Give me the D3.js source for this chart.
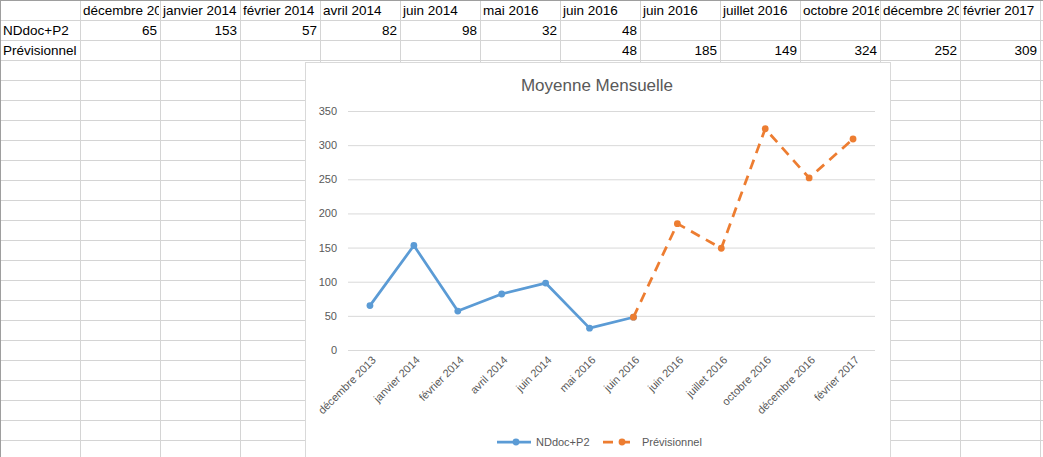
<!DOCTYPE html>
<html lang="fr">
<head>
    <meta charset="UTF-8">
    <script src="https://d3js.org/d3.v7.min.js"></script>
    <style>
        body {
            margin: 0;
            background: white;
            font-family: "Liberation Sans", Arial, sans-serif;
        }
        svg { display: block; }
    </style>
</head>
<body>
    <svg id="sheet" width="1043" height="457"></svg>
    <script>
        // données de la feuille
        const mois = ["décembre 2013", "janvier 2014", "février 2014", "avril 2014", "juin 2014", "mai 2016",
                      "juin 2016", "juin 2016", "juillet 2016", "octobre 2016", "décembre 2016", "février 2017"];
        const nomsSeries = ["NDdoc+P2", "Prévisionnel"];
        const ndDoc = [65, 153, 57, 82, 98, 32, 48, null, null, null, null, null];
        const previsionnel = [null, null, null, null, null, null, 48, 185, 149, 324, 252, 309];
        const yTicks = [0, 50, 100, 150, 200, 250, 300, 350];
        const titre = "Moyenne Mensuelle";

        const W = 1043, H = 457;
        const colW = 80, rowH = 20;
        const svg = d3.select("#sheet");

        // ---- grille du tableur ----
        const grid = svg.append("g");
        d3.range(colW, W, colW).forEach(x => {
            grid.append("line").attr("x1", x + 0.5).attr("x2", x + 0.5).attr("y1", 0).attr("y2", H)
                .attr("stroke", "#d4d4d4");
        });
        d3.range(rowH, H, rowH).forEach(y => {
            grid.append("line").attr("x1", 0).attr("x2", W).attr("y1", y + 0.5).attr("y2", y + 0.5)
                .attr("stroke", "#d4d4d4");
        });
        grid.append("line").attr("x1", 0).attr("x2", W).attr("y1", 0.5).attr("y2", 0.5).attr("stroke", "#9e9e9e");
        grid.append("line").attr("x1", 0.5).attr("x2", 0.5).attr("y1", 0).attr("y2", H).attr("stroke", "#9e9e9e");

        // cellules (texte coupé au bord de la cellule)
        const defs = svg.append("defs");
        function cell(col, row, txt, align) {
            const id = `c${col}_${row}`;
            defs.append("clipPath").attr("id", id)
                .append("rect").attr("x", col * colW).attr("y", row * rowH)
                .attr("width", colW - 1).attr("height", rowH);
            grid.append("text")
                .attr("clip-path", `url(#${id})`)
                .attr("x", align === "end" ? (col + 1) * colW - 3 : col * colW + 3)
                .attr("y", row * rowH + 15)
                .attr("text-anchor", align)
                .style("font-size", "13.5px")
                .attr("fill", "#000")
                .text(txt);
        }
        mois.forEach((m, i) => cell(i + 1, 0, m, "start"));
        nomsSeries.forEach((n, i) => cell(0, i + 1, n, "start"));
        ndDoc.forEach((v, i) => { if (v !== null) cell(i + 1, 1, v, "end"); });
        previsionnel.forEach((v, i) => { if (v !== null) cell(i + 1, 2, v, "end"); });

        // ---- graphique ----
        const box = { x: 305, y: 62, w: 585, h: 400 };
        const chart = svg.append("g");
        chart.append("rect")
            .attr("x", box.x + 0.5).attr("y", box.y + 0.5)
            .attr("width", box.w).attr("height", box.h)
            .attr("fill", "white").attr("stroke", "#d9d9d9");

        chart.append("text")
            .attr("x", 597).attr("y", 91)
            .attr("text-anchor", "middle")
            .style("font-size", "17px")
            .attr("fill", "#595959")
            .text(titre);

        const plot = { left: 348, right: 875, top: 111, bottom: 350 };
        const x = d3.scaleBand().domain(d3.range(mois.length)).range([plot.left, plot.right]);
        const y = d3.scaleLinear().domain([0, 350]).range([plot.bottom, plot.top]);
        const cx = i => x(i) + x.bandwidth() / 2;

        // lignes de grille + axe Y
        const yAxis = chart.append("g")
            .attr("transform", `translate(${plot.left},0)`)
            .call(d3.axisLeft(y).tickValues(yTicks).tickSize(-(plot.right - plot.left)).tickPadding(11));
        yAxis.select(".domain").remove();
        yAxis.selectAll(".tick line").attr("stroke", "#d9d9d9");
        yAxis.selectAll(".tick text").attr("fill", "#595959").style("font-size", "11px")
            .style("font-family", "'Liberation Sans', Arial, sans-serif");

        // axe X (libellés inclinés)
        chart.append("g").selectAll("text")
            .data(mois)
            .join("text")
            .attr("transform", (d, i) => `translate(${cx(i) + 4},${plot.bottom + 8}) rotate(-45)`)
            .attr("text-anchor", "end")
            .attr("dy", "0.35em")
            .attr("fill", "#595959")
            .style("font-size", "11px")
            .text(d => d);

        const couleurs = ["#5b9bd5", "#ed7d31"];
        const series = [ndDoc, previsionnel];

        const line = d3.line()
            .defined(d => d.v !== null)
            .x(d => cx(d.i))
            .y(d => y(d.v));

        series.forEach((vals, s) => {
            const pts = vals.map((v, i) => ({ i, v }));
            chart.append("path")
                .datum(pts)
                .attr("fill", "none")
                .attr("stroke", couleurs[s])
                .attr("stroke-width", 2.75)
                .attr("stroke-linejoin", "round")
                .attr("stroke-dasharray", s === 1 ? "10,7" : null)
                .attr("d", line);
            chart.append("g").selectAll("circle")
                .data(pts.filter(d => d.v !== null))
                .join("circle")
                .attr("cx", d => cx(d.i))
                .attr("cy", d => y(d.v))
                .attr("r", 3.4)
                .attr("fill", couleurs[s]);
        });

        // légende
        const legX = [497, 603];
        const legend = chart.append("g");
        nomsSeries.forEach((n, s) => {
            const g = legend.append("g").attr("transform", `translate(${legX[s]},442)`);
            g.append("line").attr("x1", 0).attr("x2", 34).attr("y1", 0).attr("y2", 0)
                .attr("stroke", couleurs[s]).attr("stroke-width", 2.75)
                .attr("stroke-dasharray", s === 1 ? "10,7" : null);
            g.append("circle").attr("cx", 19).attr("cy", 0).attr("r", 3.4).attr("fill", couleurs[s]);
            g.append("text").attr("x", 39).attr("dy", "0.35em")
                .attr("fill", "#595959").style("font-size", "11px").text(n);
        });
    </script>
</body>
</html>
